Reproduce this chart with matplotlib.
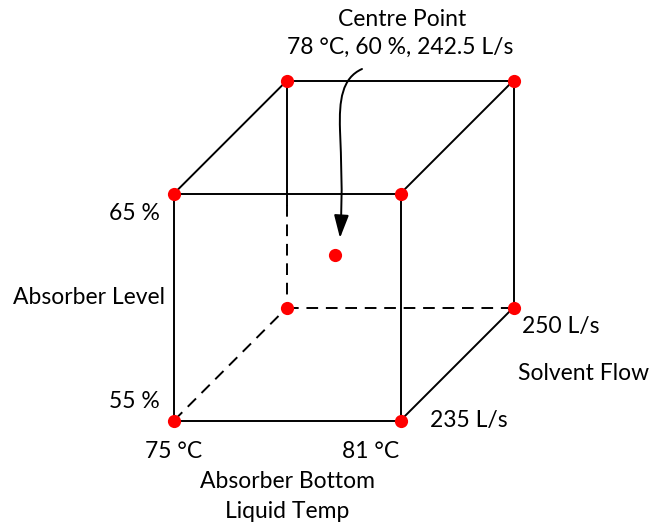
import matplotlib
matplotlib.use("Agg")
import matplotlib.pyplot as plt
from matplotlib.path import Path
from matplotlib.patches import FancyArrowPatch

# factor levels of the design
temp_levels = [75, 81]        # absorber bottom liquid temp, degC
level_levels = [55, 65]       # absorber level, %
flow_levels = [235, 250]      # solvent flow, L/s
centre = (78, 60, 242.5)

temp_labels = ["75 °C", "81 °C"]
level_labels = ["55 %", "65 %"]
flow_labels = ["235 L/s", "250 L/s"]

plt.rcParams['font.family'] = ['Lato', 'DejaVu Sans']

# oblique projection of (temp, level, flow) onto the page (pixels)
X0, Y0 = 174, 420.5
W, H, D = 226.5, 227, 113

def proj(t, l, f):
    ft = (t - temp_levels[0]) / (temp_levels[1] - temp_levels[0])
    fl = (l - level_levels[0]) / (level_levels[1] - level_levels[0])
    ff = (f - flow_levels[0]) / (flow_levels[1] - flow_levels[0])
    return X0 + ft * W + ff * D, Y0 - fl * H - ff * D

fig = plt.figure(figsize=(6.49, 5.23), dpi=100)
ax = fig.add_axes([0, 0, 1, 1])
ax.set_xlim(0, 649)
ax.set_ylim(523, 0)
ax.axis('off')

lw = 1.4
t0, t1 = temp_levels
l0, l1 = level_levels
f0, f1 = flow_levels

def edge(a, b, **kw):
    xa, ya = proj(*a)
    xb, yb = proj(*b)
    ax.plot([xa, xb], [ya, yb], color='black', lw=lw, zorder=1, **kw)

dash = dict(linestyle=(0, (6, 4)))

# visible edges
for f in flow_levels:
    edge((t0, l1, f), (t1, l1, f))
edge((t0, l0, f0), (t1, l0, f0))
edge((t0, l0, f0), (t0, l1, f0))
edge((t1, l0, f0), (t1, l1, f0))
edge((t1, l0, f1), (t1, l1, f1))
for t in temp_levels:
    edge((t, l1, f0), (t, l1, f1))
edge((t1, l0, f0), (t1, l0, f1))
# hidden edges (back-left vertical partly solid)
split = 59.5
edge((t0, l1, f1), (t0, split, f1))
edge((t0, split, f1), (t0, l0, f1), **dash)
edge((t0, l0, f1), (t1, l0, f1), **dash)
edge((t0, l0, f0), (t0, l0, f1), **dash)

# design points
xs, ys = [], []
for t in temp_levels:
    for l in level_levels:
        for f in flow_levels:
            x, y = proj(t, l, f)
            xs.append(x)
            ys.append(y)
cx, cy = proj(*centre)
xs.append(cx - 9)
ys.append(cy + 4)
ax.plot(xs, ys, 'o', color='#ff0000', ms=9.5, mec='none', zorder=3)

# curved arrow from the label to the centre point
verts = [(362, 69), (342, 78), (339, 100), (340, 130),
         (341, 160), (343, 190), (340, 238)]
codes = [Path.MOVETO] + [Path.CURVE4] * 6
arr = FancyArrowPatch(path=Path(verts, codes),
                      arrowstyle='-|>,head_length=1.4,head_width=0.45',
                      mutation_scale=10, color='black', lw=lw,
                      shrinkA=0, shrinkB=0, zorder=2)
ax.add_patch(arr)

fs = 16.5
ax.text(402, 19, "Centre Point", ha='center', va='center', fontsize=fs)
ax.text(400, 47, "%g °C, %g %%, %g L/s" % centre, ha='center', va='center', fontsize=fs)
ax.text(134, 214, level_labels[1], ha='center', va='center', fontsize=fs)
ax.text(134, 402, level_labels[0], ha='center', va='center', fontsize=fs)
ax.text(89, 298, "Absorber Level", ha='center', va='center', fontsize=fs)
ax.text(174, 451, temp_labels[0], ha='center', va='center', fontsize=fs)
ax.text(371, 451, temp_labels[1], ha='center', va='center', fontsize=fs)
ax.text(287, 481, "Absorber Bottom", ha='center', va='center', fontsize=fs)
ax.text(287, 511, "Liquid Temp", ha='center', va='center', fontsize=fs)
ax.text(522, 326, flow_labels[1], ha='left', va='center', fontsize=fs)
ax.text(518, 374, "Solvent Flow", ha='left', va='center', fontsize=fs)
ax.text(430, 420, flow_labels[0], ha='left', va='center', fontsize=fs)

fig.savefig("out.png", dpi=100)
